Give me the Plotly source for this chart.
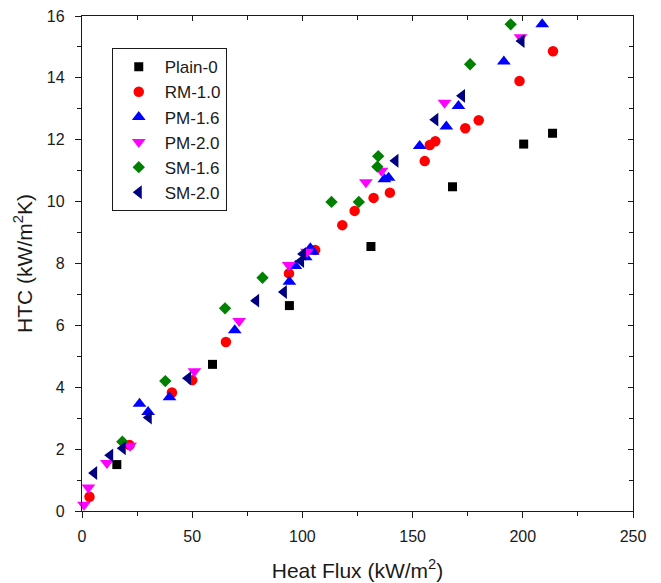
import plotly.graph_objects as go

# ---- data ----
plain0_x = [15.8, 59.2, 94.1, 131.1, 168.1, 200.4, 213.5]
plain0_y = [1.50, 4.74, 6.64, 8.55, 10.48, 11.86, 12.21]

rm10_x = [3.4, 21.6, 40.8, 50.0, 65.3, 93.9, 105.8, 118.1, 123.7, 132.3, 139.7, 155.5, 157.8, 160.3, 173.9, 180.0, 198.5, 213.7]
rm10_y = [0.46, 2.13, 3.83, 4.23, 5.46, 7.68, 8.44, 9.24, 9.70, 10.12, 10.29, 11.31, 11.83, 11.95, 12.37, 12.63, 13.90, 14.86]

pm16_x = [26.1, 30.0, 39.7, 69.3, 94.1, 96.8, 101.5, 103.6, 104.7, 137.2, 139.1, 153.2, 165.3, 170.8, 191.4, 208.8]
pm16_y = [3.47, 3.20, 3.68, 5.84, 7.41, 7.92, 8.20, 8.49, 8.38, 10.72, 10.77, 11.80, 12.43, 13.09, 14.53, 15.73]

pm20_x = [0.9, 2.9, 11.3, 21.8, 51.0, 71.3, 93.8, 102.1, 128.8, 135.9, 164.5, 199.0]
pm20_y = [0.20, 0.76, 1.55, 2.11, 4.52, 6.14, 7.95, 8.38, 10.63, 11.00, 13.20, 15.31]

sm16_x = [18.3, 37.8, 64.9, 81.9, 113.2, 125.6, 134.0, 134.4, 176.1, 194.5]
sm16_y = [2.24, 4.20, 6.55, 7.54, 9.99, 9.99, 11.13, 11.47, 14.44, 15.73]

sm20_x = [5.5, 12.8, 18.5, 30.3, 48.1, 79.0, 91.6, 99.4, 100.3, 142.2, 160.3, 172.4, 199.4]
sm20_y = [1.23, 1.80, 2.03, 3.02, 4.29, 6.80, 7.08, 8.08, 8.31, 11.32, 12.65, 13.42, 15.19]

series_names = ["Plain-0", "RM-1.0", "PM-1.6", "PM-2.0", "SM-1.6", "SM-2.0"]

x_ticks = [0, 50, 100, 150, 200, 250]
y_ticks = [0, 2, 4, 6, 8, 10, 12, 14, 16]

# ---- styles ----
styles = [
    dict(symbol="square", color="#000000", size=9),
    dict(symbol="circle", color="#FF0000", size=10.5),
    dict(symbol="triangle-up", color="#0000FF", size=12),
    dict(symbol="triangle-down", color="#FF00FF", size=12),
    dict(symbol="diamond", color="#008000", size=9.5),
    dict(symbol="triangle-left", color="#000080", size=12),
]
data = [(plain0_x, plain0_y), (rm10_x, rm10_y), (pm16_x, pm16_y),
        (pm20_x, pm20_y), (sm16_x, sm16_y), (sm20_x, sm20_y)]

FONT = "Liberation Sans, Arial, sans-serif"

fig = go.Figure()
for name, (xs, ys), st in zip(series_names, data, styles):
    fig.add_trace(go.Scatter(
        x=xs, y=ys, mode="markers", name=name,
        marker=dict(symbol=st["symbol"], color=st["color"], size=st["size"],
                    line=dict(width=0)),
        cliponaxis=False,
    ))

# empty trace to activate the mirror (top/right) axes
fig.add_trace(go.Scatter(x=[], y=[], xaxis="x2", yaxis="y2", showlegend=False,
                         hoverinfo="skip"))

axis_common = dict(
    showgrid=False, zeroline=False, showline=True, linecolor="#1a1a1a",
    linewidth=1.3, tickcolor="#1a1a1a", tickwidth=1.3, automargin=False,
)

fig.update_layout(
    width=661, height=583,
    margin=dict(l=82, r=28, t=16, b=72),
    paper_bgcolor="white", plot_bgcolor="white",
    font=dict(family=FONT, color="#1a1a1a"),
    showlegend=True,
    legend=dict(
        x=0.054, y=0.935, xanchor="left", yanchor="top",
        bordercolor="#1a1a1a", borderwidth=1, bgcolor="white",
        font=dict(size=17, family=FONT, color="#1a1a1a"),
        itemwidth=42, tracegroupgap=0,
    ),
    xaxis=dict(
        **axis_common, range=[0, 250], tickvals=x_ticks, ticks="outside",
        ticklen=6, tickfont=dict(size=16), ticklabelstandoff=5,
        minor=dict(dtick=25, ticks="outside", ticklen=4, tickcolor="#1a1a1a", tickwidth=1.3),
        title=dict(text="Heat Flux (kW/m<sup>2</sup>)", font=dict(size=21), standoff=18),
        mirror=False,
    ),
    yaxis=dict(
        **axis_common, range=[0, 16], tickvals=y_ticks, ticks="outside",
        ticklen=6, tickfont=dict(size=16), ticklabelstandoff=7,
        minor=dict(dtick=1, ticks="outside", ticklen=4, tickcolor="#1a1a1a", tickwidth=1.3),
        title=dict(text="HTC (kW/m<sup>2</sup>K)", font=dict(size=21), standoff=8),
        mirror=False,
    ),
    xaxis2=dict(
        **axis_common, range=[0, 250], overlaying="x", side="top", anchor="y2",
        tickvals=x_ticks, ticks="inside", ticklen=5, showticklabels=False,
        minor=dict(dtick=25, ticks="inside", ticklen=4, tickcolor="#1a1a1a", tickwidth=1.3),
    ),
    yaxis2=dict(
        **axis_common, range=[0, 16], overlaying="y", side="right", anchor="x2",
        tickvals=y_ticks, ticks="inside", ticklen=5, showticklabels=False,
        minor=dict(dtick=1, ticks="inside", ticklen=4, tickcolor="#1a1a1a", tickwidth=1.3),
    ),
)

fig.write_html("out.html")
